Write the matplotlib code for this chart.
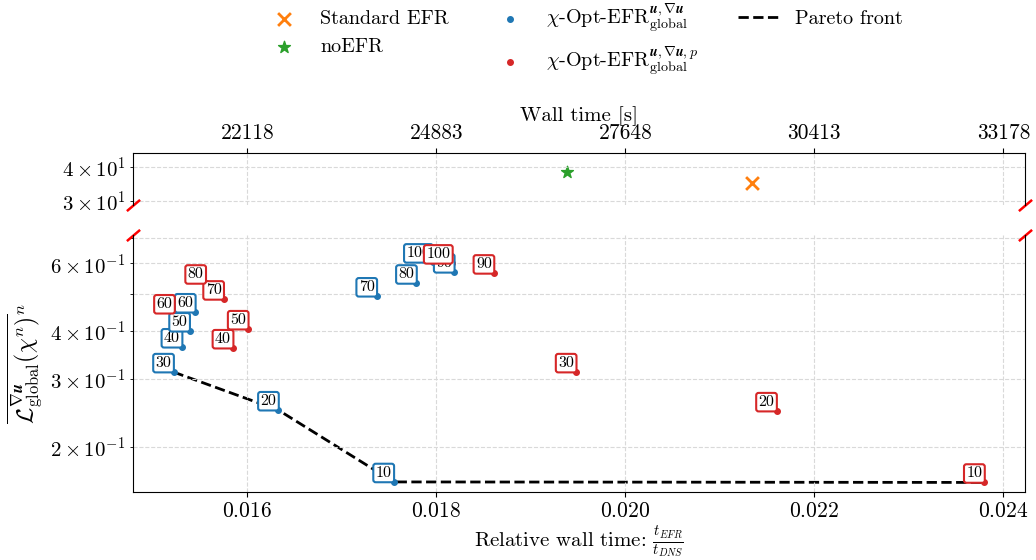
import numpy as np
import matplotlib.pyplot as plt
from matplotlib.ticker import FuncFormatter

plt.rcParams.update({
    "font.family": "serif",
    "font.serif": ["cmr10"],
    "mathtext.fontset": "cm",
    "axes.formatter.use_mathtext": True,
    "axes.unicode_minus": False,
    "font.size": 15,
})

# DNS wall time (16 days) used for the top axis
T_DNS = 1382400.0

# chi-Opt-EFR global (u, grad u)
blue_labels = [10, 20, 30, 40, 50, 60, 70, 80, 90, 100]
blue_x = [0.01755, 0.01633, 0.01522, 0.01531, 0.01539, 0.01545, 0.01737, 0.01779, 0.01819, 0.01796]
blue_y = [0.1620, 0.249, 0.3128, 0.363, 0.3995, 0.4477, 0.4926, 0.532, 0.5686, 0.6036]

# chi-Opt-EFR global (u, grad u, p)
red_labels = [10, 20, 30, 40, 50, 60, 70, 80, 90, 100]
red_x = [0.02380, 0.02160, 0.01948, 0.01585, 0.01601, 0.01523, 0.01575, 0.01556, 0.01861, 0.01817]
red_y = [0.1615, 0.2476, 0.3128, 0.361, 0.4045, 0.445, 0.4835, 0.532, 0.565, 0.600]

# reference runs
std_x, std_y = [0.02134], [34.8]
noefr_x, noefr_y = [0.01938], [38.2]

# pareto front over both optimised sets
all_x = np.r_[blue_x, red_x]
all_y = np.r_[blue_y, red_y]
front = []
best = np.inf
for i in np.argsort(all_x):
    if all_y[i] < best:
        front.append(i)
        best = all_y[i]
front_x, front_y = all_x[front], all_y[front]

fig = plt.figure(figsize=(10.36, 5.6), dpi=100)
ax_top = fig.add_axes([0.1284, 0.6345, 0.861, 0.0928])
ax = fig.add_axes([0.1284, 0.1214, 0.861, 0.459])

h_std = ax_top.scatter(std_x, std_y, marker="x", s=85, color="tab:orange", linewidths=2, label="Standard EFR")
h_no = ax_top.scatter(noefr_x, noefr_y, marker="*", s=80, color="tab:green", label="noEFR")

h_blue = ax.scatter(blue_x, blue_y, s=16, color="tab:blue", zorder=2,
                    label=r"$\chi\text{-Opt-EFR}^{\mathbfit{u},\nabla\mathbfit{u}}_{\mathrm{global}}$")
h_red = ax.scatter(red_x, red_y, s=16, color="tab:red", zorder=2,
                   label=r"$\chi\text{-Opt-EFR}^{\mathbfit{u},\nabla\mathbfit{u},p}_{\mathrm{global}}$")
h_par, = ax.plot(front_x, front_y, "--", color="black", lw=2, zorder=1.5, label="Pareto front")

for xs, ys, labs, c in [(blue_x, blue_y, blue_labels, "tab:blue"), (red_x, red_y, red_labels, "tab:red")]:
    for x, y, n in zip(xs, ys, labs):
        ax.annotate(str(n), (x, y), xytext=(-1.5, 1.5), textcoords="offset points",
                    ha="right", va="bottom", fontsize=11.5,
                    bbox=dict(boxstyle="round,pad=0.15", fc="white", ec=c, lw=1.5))

ax.set_yscale("log")
ax_top.set_yscale("log")
ax.set_ylim(0.1525, 0.711)
ax_top.set_ylim(29.0, 45.1)
ax_top.set_xlim(ax.get_xlim())

ax.spines["top"].set_visible(False)
ax_top.spines["bottom"].set_visible(False)
ax_top.xaxis.tick_top()
ax_top.xaxis.set_label_position("top")
ax_top.xaxis.set_major_formatter(FuncFormatter(lambda v, p: f"{v * T_DNS:.0f}"))
ax_top.set_xlabel("Wall time [s]", labelpad=2)

for a in (ax, ax_top):
    a.grid(True, axis="x", which="major", ls="--", color="#d9d9d9", lw=0.8)
    a.grid(True, axis="y", which="both", ls="--", color="#d9d9d9", lw=0.8)
    a.tick_params(labelsize=15.5)

ax.set_xlabel(r"Relative wall time: $\frac{t_{EFR}}{t_{DNS}}$", labelpad=2)
ax.set_ylabel(r"$\overline{\mathcal{L}^{\nabla\mathbfit{u}}_{\mathrm{global}}(\chi^n)}^{n}$", fontsize=17)

# broken axis marks
kw = dict(marker=[(-1, -0.85), (1, 0.85)], markersize=9.5, linestyle="none",
          color="red", mec="red", mew=1.8, clip_on=False)
ax_top.plot([0, 1], [0, 0], transform=ax_top.transAxes, **kw)
ax.plot([0, 1], [1, 1], transform=ax.transAxes, **kw)

fig.legend(handles=[h_std, h_no, h_blue, h_red, h_par], loc="upper center",
           bbox_to_anchor=(0.563, 1.03), ncol=3, frameon=False, fontsize=14.5)

plt.savefig("out.png", dpi=100)
